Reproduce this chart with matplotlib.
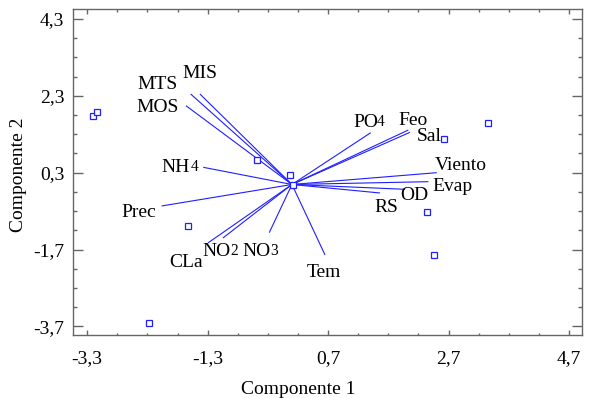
import matplotlib
matplotlib.use("Agg")
import matplotlib.pyplot as plt
from matplotlib.ticker import FixedLocator

# ---- data ----
point_x = [-3.197, -3.134, 3.351, 2.630, -0.473, 0.067, 0.122, -1.619, 2.335, 2.459, -2.270]
point_y = [1.770, 1.866, 1.585, 1.169, 0.622, 0.240, -0.033, -1.078, -0.730, -1.853, -3.622]

origin = (0.100, -0.007)
var_names = ["MTS", "MIS", "MOS", "NH4", "PO4", "Feo", "Sal", "Viento", "Evap",
             "OD", "RS", "Prec", "CLa", "NO2", "NO3", "Tem"]
var_x = [-1.582, -1.428, -1.660, -1.373, 1.408, 2.032, 2.060, 2.504, 2.365,
         1.977, 1.562, -2.064, -1.295, -1.046, -0.277, 0.649]
var_y = [2.347, 2.347, 2.043, 0.440, 1.340, 1.410, 1.351, 0.300, 0.066,
         -0.132, -0.228, -0.566, -1.528, -1.398, -1.260, -1.840]

# label anchor (x: centre for plain, left edge for subscripted; y: baseline)
lab_x = [-2.139, -1.428, -2.126, -2.064, 1.113, 2.102, 2.376, 2.899, 2.758,
         2.135, 1.673, -2.441, -1.660, -1.383, -0.719, 0.632]
lab_y = [2.469, 2.755, 1.887, 0.326, 1.496, 1.541, 1.132, 0.370, -0.168,
         -0.410, -0.714, -0.860, -2.145, -1.866, -1.866, -2.405]

x_ticks = [-3.3, -1.3, 0.7, 2.7, 4.7]
y_ticks = [-3.7, -1.7, 0.3, 2.3, 4.3]
x_label = "Componente 1"
y_label = "Componente 2"

# ---- style ----
FONT = "Liberation Serif"
FS = 14.0
BLUE = "#1f1fff"
FRAME = "#666666"

plt.rcParams["font.family"] = [FONT, "DejaVu Serif"]

fig = plt.figure(figsize=(5.96, 3.98), dpi=100)
ax = fig.add_axes([73.3 / 596, 1 - 335.3 / 398, (581.7 - 73.3) / 596, (335.3 - 9.3) / 398])

ax.set_xlim(-3.53, 4.91)
ax.set_ylim(-3.93, 4.55)

for vx, vy in zip(var_x, var_y):
    ax.plot([origin[0], vx], [origin[1], vy], color=BLUE, lw=0.8, solid_capstyle="butt")

ax.plot(point_x, point_y, linestyle="none", marker="s", markersize=4.4,
        markerfacecolor="white", markeredgecolor=BLUE, markeredgewidth=0.9, zorder=3)

subs = {"NH4": ("NH", "4", 0.8), "PO4": ("PO", "4", -0.6),
        "NO2": ("NO", "2", -0.6), "NO3": ("NO", "3", -0.6)}

for name, lx, ly in zip(var_names, lab_x, lab_y):
    if name in subs:
        main, sub, gap = subs[name]
        t = ax.text(lx, ly, main, ha="left", va="baseline", fontsize=FS, color="black")
        ax.annotate(sub, xy=(1, 0), xycoords=t, xytext=(gap, 0.5), textcoords="offset points",
                    ha="left", va="bottom", fontsize=FS * 0.8, color="black")
    else:
        ax.text(lx, ly, name, ha="center", va="baseline", fontsize=FS, color="black")

ax.xaxis.set_major_locator(FixedLocator(x_ticks))
ax.yaxis.set_major_locator(FixedLocator(y_ticks))
ax.xaxis.set_minor_locator(FixedLocator([x_ticks[0] + 0.5 * i for i in range(17)]))
ax.yaxis.set_minor_locator(FixedLocator([y_ticks[0] + 0.5 * i for i in range(17)]))
ax.set_xticklabels([f"{v:.1f}".replace(".", ",") for v in x_ticks])
ax.set_yticklabels([f"{v:.1f}".replace(".", ",") for v in y_ticks])

ax.tick_params(axis="x", which="major", direction="in", length=3.6, width=1.0,
               color=FRAME, top=True, bottom=True, labelsize=FS, pad=11.0)
ax.tick_params(axis="x", which="minor", direction="in", length=1.8, width=1.0,
               color=FRAME, top=True, bottom=True)
ax.tick_params(axis="y", which="major", direction="in", length=7.2, width=1.0,
               color=FRAME, left=True, right=True, labelsize=FS, pad=6.5)
ax.tick_params(axis="y", which="minor", direction="in", length=2.9, width=1.0,
               color=FRAME, left=True, right=True)

for s in ax.spines.values():
    s.set_color(FRAME)
    s.set_linewidth(1.0)

ax.set_xlabel(x_label, fontsize=FS)
ax.xaxis.set_label_coords((298 - 73.3) / 508.4, (335.3 - 381.0) / 326.0)
ax.set_ylabel(y_label, fontsize=FS)
ax.yaxis.set_label_coords((27 - 73.3) / 508.4, (335.3 - 175) / 326.0)

fig.savefig("out.png", dpi=100)
